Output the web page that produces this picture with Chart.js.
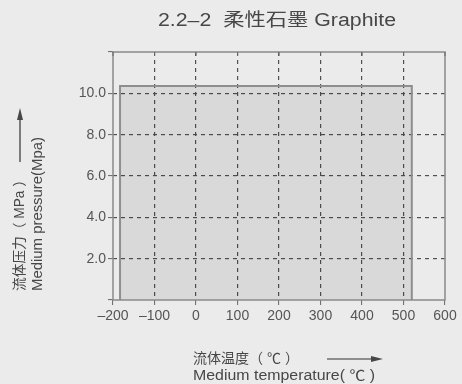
<!DOCTYPE html>
<html lang="zh">
<head>
  <meta charset="UTF-8">
  <title>柔性石墨 Graphite</title>
  <script src="https://cdn.jsdelivr.net/npm/chart.js"></script>
  <style>
    html, body { margin: 0; padding: 0; background: #ebebeb; }
    #box { width: 462px; height: 384px; }
  </style>
</head>
<body>
<div id="box"><canvas id="grafico" width="462" height="384"></canvas></div>
<script>
  // dados
  const xTicks = [-200, -100, 0, 100, 200, 300, 400, 500, 600];
  const yTickLabels = [2, 4, 6, 8, 10];
  const tempC = [-183, -183, 520, 520];
  const pressureMPa = [0, 10.35, 10.35, 0];

  const titleText = '2.2–2  柔性石墨 Graphite';
  const xTitle = ['流体温度（ ℃ ）', 'Medium temperature( ℃ )'];
  const yTitle = ['流体压力（ MPa ）', 'Medium pressure(Mpa)'];

  const points = tempC.map((t, i) => ({ x: t, y: pressureMPa[i] }));
  const gridDark = '#505050';

  // desenha texto com largura fixa (a fonte original e mais espaçada)
  function fitText(ctx, txt, x, y, w) {
    const natural = ctx.measureText(txt).width;
    ctx.save();
    ctx.translate(x, y);
    ctx.scale(w / natural, 1);
    ctx.fillText(txt, 0, 0);
    ctx.restore();
  }

  // moldura, textos e setas
  const extras = {
    id: 'extras',
    afterDraw(chart) {
      const { ctx, chartArea: a, scales } = chart;
      ctx.save();
      // moldura
      ctx.strokeStyle = '#8a8a8a';
      ctx.lineWidth = 1.5;
      ctx.strokeRect(a.left, a.top, a.right - a.left, a.bottom - a.top);
      // marcas no topo
      ctx.strokeStyle = '#666';
      ctx.lineWidth = 1;
      xTicks.forEach(v => {
        const px = scales.x.getPixelForValue(v);
        ctx.beginPath();
        ctx.moveTo(px, a.top);
        ctx.lineTo(px, a.top + 4);
        ctx.stroke();
      });

      ctx.fillStyle = '#474747';
      ctx.textBaseline = 'middle';
      ctx.textAlign = 'left';
      // titulo
      ctx.font = '18px "Liberation Sans", "Noto Sans CJK SC", sans-serif';
      fitText(ctx, titleText, 158, 21, 238);

      // titulo eixo x
      ctx.font = '14px "Liberation Sans", "Noto Sans CJK SC", sans-serif';
      fitText(ctx, xTitle[0], 193, 359, 106);
      fitText(ctx, xTitle[1], 193, 376, 182);
      ctx.strokeStyle = '#333';
      ctx.lineWidth = 1.2;
      ctx.beginPath();
      ctx.moveTo(327, 359);
      ctx.lineTo(376, 359);
      ctx.stroke();
      ctx.beginPath();
      ctx.moveTo(383, 359);
      ctx.lineTo(371, 356);
      ctx.lineTo(371, 362);
      ctx.closePath();
      ctx.fill();

      // titulo eixo y (rotacionado)
      ctx.save();
      ctx.translate(20, 291);
      ctx.rotate(-Math.PI / 2);
      fitText(ctx, yTitle[0], 0, 0, 118);
      fitText(ctx, yTitle[1], 0, 18, 154);
      ctx.beginPath();
      ctx.moveTo(129, 0);
      ctx.lineTo(176, 0);
      ctx.stroke();
      ctx.beginPath();
      ctx.moveTo(183, 0);
      ctx.lineTo(171, -3);
      ctx.lineTo(171, 3);
      ctx.closePath();
      ctx.fill();
      ctx.restore();

      ctx.restore();
    }
  };

  const config = {
    type: 'scatter',
    data: {
      datasets: [{
        label: 'Graphite',
        data: points,
        showLine: true,
        fill: 'origin',
        backgroundColor: 'rgba(0, 0, 0, 0.075)',
        borderColor: '#8e8e8e',
        borderWidth: 2,
        pointRadius: 0,
        tension: 0
      }]
    },
    options: {
      responsive: false,
      animation: false,
      layout: { padding: { top: 52, right: 17, left: 0, bottom: 0 } },
      plugins: {
        legend: { display: false },
        tooltip: { enabled: false }
      },
      scales: {
        x: {
          type: 'linear',
          min: -200,
          max: 600,
          afterFit: s => { s.height = 84; },
          afterBuildTicks: s => { s.ticks = xTicks.map(v => ({ value: v })); },
          border: { display: false, dash: [4, 4] },
          grid: {
            color: c => (c.tick && (c.tick.value === -200 || c.tick.value === 600)) ? 'rgba(0,0,0,0)' : gridDark,
            lineWidth: 1.2,
            tickColor: '#666',
            tickLength: 5,
            tickWidth: 1
          },
          ticks: {
            color: '#555',
            font: { family: '"Liberation Sans", sans-serif', size: 14 },
            padding: 3,
            maxRotation: 0,
            callback: v => String(v).replace('-', '–')
          }
        },
        y: {
          type: 'linear',
          min: 0,
          max: 12,
          afterFit: s => { s.width = 113; },
          afterBuildTicks: s => { s.ticks = [0, 2, 4, 6, 8, 10, 12].map(v => ({ value: v })); },
          border: { display: false, dash: [4, 4] },
          grid: {
            color: c => (c.tick && (c.tick.value === 0 || c.tick.value === 12)) ? 'rgba(0,0,0,0)' : gridDark,
            lineWidth: 1.2,
            tickColor: '#666',
            tickLength: 5,
            tickWidth: 1
          },
          ticks: {
            color: '#555',
            font: { family: '"Liberation Sans", sans-serif', size: 14 },
            padding: 2,
            callback: v => yTickLabels.includes(v) ? v.toFixed(1) : ''
          }
        }
      }
    },
    plugins: [extras]
  };

  new Chart(document.getElementById('grafico').getContext('2d'), config);
</script>
</body>
</html>
